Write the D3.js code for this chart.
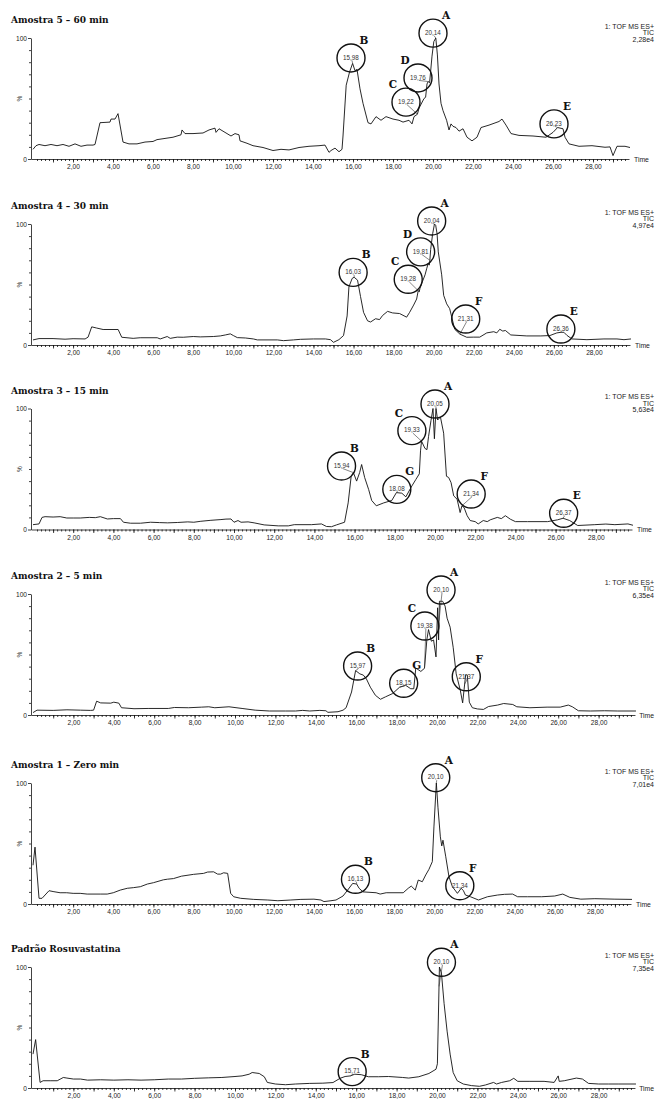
<!DOCTYPE html>
<html>
<head>
<meta charset="utf-8">
<script src="https://cdn.jsdelivr.net/npm/d3@7"></script>
<style>
    body { margin: 0; background: #fff; }
    svg { display: block; }
    .tick text { font-family: "Liberation Sans", Arial, sans-serif; font-size: 6.6px; fill: #222; }
    .tick line, .domain { stroke: #111; stroke-width: 0.8; }
</style>
</head>
<body>
<div id="chart"></div>
<script>
// ---------------- data ----------------
var titles = ["Amostra 5 \u2013 60 min", "Amostra 4 \u2013 30 min", "Amostra 3 \u2013 15 min",
    "Amostra 2 \u2013 5 min", "Amostra 1 \u2013 Zero min", "Padr\u00e3o Rosuvastatina"];
var ticValues = ["2,28e4", "4,97e4", "5,63e4", "6,35e4", "7,01e4", "7,35e4"];
var xTickLabels = [2, 4, 6, 8, 10, 12, 14, 16, 18, 20, 22, 24, 26, 28];

// Amostra 5 - 60 min (time in min, intensity in %)
var a5Time = [0, 0.15, 0.3, 0.6, 0.9, 1.2, 1.5, 1.8, 2.1, 2.4, 2.7, 3.0, 3.1, 3.35, 3.85, 3.9, 4.1, 4.25, 4.5, 4.8,
    5.2, 5.6, 6.0, 6.2, 6.6, 7.0, 7.4, 7.45, 7.6, 8.0, 8.5, 8.8, 9.1, 9.15, 9.3, 9.6, 9.9, 10.1, 10.3, 10.35,
    10.7, 11.0, 11.5, 12.0, 12.4, 12.8, 13.3, 13.8, 14.3, 14.6, 14.8, 14.9, 15.1, 15.3, 15.45, 15.5, 15.66, 15.83, 15.98, 16.1,
    16.2, 16.35, 16.5, 16.75, 16.9, 17.15, 17.4, 17.65, 18.0, 18.3, 18.5, 18.8, 18.95, 19.05, 19.22, 19.3, 19.55, 19.63, 19.7, 19.76,
    19.83, 19.95, 20.04, 20.14, 20.22, 20.3, 20.4, 20.5, 20.68, 20.8, 20.9, 21.0, 21.15, 21.3, 21.5, 21.7, 21.95, 22.2, 22.4, 22.8,
    23.3, 23.45, 23.65, 23.9, 24.3, 25.0, 25.65, 26.0, 26.23, 26.5, 26.6, 26.8, 27.3, 27.95, 28.6, 28.85, 29.0, 29.2, 29.6, 29.85];
var a5Int = [8, 11, 12, 11, 12, 11, 12, 10.5, 12.5, 10.5, 11.5, 11.5, 12, 30, 30.5, 33, 33, 37.5, 14, 12.5,
    12.5, 14, 14.5, 16, 17, 18, 20, 24, 21, 21, 21.5, 24, 25.5, 22, 25, 22, 19, 21, 20, 15,
    13, 11, 9.5, 7, 8, 7.5, 9.5, 10.5, 11, 11.5, 5.5, 7, 9, 6, 8, 19, 61, 72, 79, 73,
    74, 58, 46, 30, 29, 35, 32, 35, 33, 32, 30.5, 32, 29, 35, 37, 42, 50, 51, 62, 64,
    63, 85, 97, 100, 86, 62, 46, 40, 32, 24, 29, 27, 26, 23, 25, 18, 15, 18, 26, 28,
    31, 33, 28, 21, 19.5, 19, 18, 22, 26, 25, 18, 12.5, 10.5, 11, 9.7, 10, 2.8, 10.5, 10.5, 9.5];

// Amostra 4 - 30 min
var a4Time = [0, 0.3, 1.0, 1.6, 2.0, 2.6, 2.75, 2.93, 3.18, 3.5, 4.25, 4.43, 5.0, 5.35, 6.2, 6.35, 6.7, 6.85, 7.2, 7.5,
    8.0, 8.35, 9.0, 9.35, 9.6, 9.85, 10.0, 10.2, 10.6, 11.0, 11.2, 12.2, 12.5, 13.0, 13.35, 14.0, 14.6, 14.85, 15.0, 15.27,
    15.5, 15.68, 15.77, 15.93, 16.03, 16.2, 16.35, 16.5, 16.7, 16.85, 17.1, 17.3, 17.45, 17.7, 17.95, 18.3, 18.65, 18.8, 19.0, 19.15,
    19.23, 19.28, 19.32, 19.43, 19.57, 19.65, 19.73, 19.78, 19.81, 19.85, 19.95, 20.04, 20.1, 20.17, 20.23, 20.4, 20.5, 20.65, 20.8, 21.05,
    21.31, 21.65, 22.0, 22.3, 22.65, 23.0, 23.15, 23.3, 23.45, 23.58, 23.85, 24.65, 25.35, 25.8, 26.15, 26.36, 26.5, 26.65, 26.9, 27.65,
    28.5, 29.15, 29.5, 29.85];
var a4Int = [4.2, 5.3, 5.3, 4.8, 5.2, 5, 6.5, 15, 14, 12.8, 12.8, 6.4, 5.5, 6, 6, 5, 7, 5.5, 6.5, 6.4,
    7, 6.7, 7, 7.5, 8.3, 9.2, 7.8, 6.1, 5.8, 5, 4.2, 4.2, 3.6, 4.2, 4.7, 5, 5, 4.4, 2.2, 4.4,
    7.8, 24, 48, 55, 56, 53.6, 40, 27, 20, 19, 21.7, 21, 24.4, 27.8, 26.5, 26, 23, 27, 33, 38,
    45, 44, 47, 52, 58, 63, 67.5, 66, 70, 79, 92, 100, 99, 92, 77, 58, 41, 34, 30, 13,
    9, 6.4, 6.5, 6.5, 10, 11, 10, 13, 11.5, 12, 8.3, 7.5, 7.5, 7.8, 10, 10.5, 10.5, 8, 5, 4.4,
    5, 5, 4.4, 5];

// Amostra 3 - 15 min
var a3Time = [0, 0.3, 0.45, 0.6, 1.0, 1.35, 1.68, 2.0, 2.35, 2.8, 3.1, 3.35, 3.7, 4.0, 4.35, 4.5, 4.85, 5.35, 5.85, 6.3,
    6.7, 7.2, 7.7, 8.0, 8.35, 8.85, 9.35, 9.6, 9.85, 10.0, 10.2, 10.35, 10.7, 11.0, 11.5, 12.2, 12.7, 13.0, 13.85, 14.35,
    14.6, 14.85, 15.1, 15.5, 15.68, 15.83, 15.94, 16.1, 16.25, 16.35, 16.5, 16.7, 16.85, 17.08, 17.45, 17.85, 18.08, 18.35, 18.55, 18.85,
    19.05, 19.22, 19.28, 19.33, 19.5, 19.6, 19.68, 19.8, 19.9, 19.97, 20.05, 20.13, 20.27, 20.43, 20.57, 20.68, 20.8, 20.93, 21.1, 21.25,
    21.34, 21.45, 21.6, 21.75, 22.0, 22.15, 22.4, 22.6, 22.75, 23.1, 23.3, 23.5, 23.75, 24.0, 24.6, 25.6, 26.1, 26.37, 26.7, 27.1,
    27.95, 28.5, 28.95, 29.6, 29.85];
var a3Int = [4, 4.6, 10, 10.6, 10.3, 10.6, 9.5, 9.5, 9.5, 10, 9.8, 10.6, 8.7, 9, 9, 6, 5.2, 5.2, 6, 5.7,
    5.5, 5.8, 6.3, 6, 6.8, 7.6, 8.2, 8.6, 8.7, 6, 7.4, 6, 6.3, 5.5, 3.8, 3, 3, 4, 4, 4.6,
    2.5, 2.3, 3.8, 6, 22, 44, 47, 40, 47, 53.7, 43, 33, 24, 19.6, 22, 24, 30.5, 30, 27, 36,
    41.4, 46, 65, 73, 67, 66, 77, 90, 100, 75, 100, 90.5, 93, 79.6, 44, 43, 38.7, 27.8, 25, 14,
    19.6, 18, 11.4, 7.4, 6.5, 4.6, 7.4, 6.5, 8, 10, 9, 11.4, 8.5, 6.5, 6.5, 6.5, 8, 9.3, 7.4, 3.3,
    4, 4.5, 4, 4.6, 3.5];

// Amostra 2 - 5 min
var a2Time = [0, 0.2, 1.0, 1.68, 2.35, 2.85, 3.0, 3.15, 3.35, 3.85, 4.0, 4.25, 4.38, 5.0, 5.7, 6.7, 7.0, 7.7, 8.35, 8.7,
    9.0, 9.7, 10.35, 11.0, 11.7, 12.5, 13.0, 13.35, 13.7, 14.2, 14.5, 14.6, 15.1, 15.35, 15.5, 15.77, 15.97, 16.18, 16.35, 16.5,
    16.7, 16.95, 17.2, 17.45, 17.8, 18.15, 18.45, 18.7, 18.85, 18.95, 19.2, 19.38, 19.5, 19.58, 19.72, 19.83, 19.95, 20.03, 20.08, 20.12,
    20.28, 20.4, 20.5, 20.65, 20.8, 20.95, 21.15, 21.27, 21.42, 21.5, 21.6, 21.75, 22.0, 22.3, 22.55, 23.0, 23.3, 23.75, 23.95, 24.6,
    25.45, 26.1, 26.5, 26.7, 27.0, 27.6, 28.3, 28.95, 29.85];
var a2Int = [2, 4, 3.8, 4.3, 4, 3.8, 4, 11.4, 10, 9.8, 10.6, 9.8, 6, 5.2, 5.4, 5.4, 6.2, 6, 6.5, 6.8,
    6, 6.8, 5.4, 4, 3.3, 3.3, 3.3, 3.8, 3.3, 3.8, 3.5, 2.2, 2.7, 4, 6, 19, 36.7, 34, 33, 30,
    23, 16.3, 13, 15, 17.7, 23, 24.5, 21.7, 21.7, 38.8, 36, 38.6, 62.5, 70.6, 61, 62, 48, 88.6, 62, 94,
    94, 90, 80, 72.6, 56, 34, 20.7, 10, 33.4, 33, 10.6, 6, 5, 4.6, 7, 8.2, 9.5, 8.7, 6.8, 6,
    6.5, 6.5, 8.2, 6.8, 3.5, 3.3, 3.5, 3.3, 3.3];

// Amostra 1 - Zero min
var a1Time = [0, 0.1, 0.3, 0.45, 0.8, 1.0, 1.35, 1.68, 2.0, 2.35, 2.7, 3.35, 3.7, 4.0, 4.35, 4.7, 5.0, 5.35, 5.7, 6.0,
    6.5, 6.7, 7.0, 7.4, 8.0, 8.5, 8.7, 9.0, 9.2, 9.35, 9.5, 9.7, 9.85, 10.0, 10.35, 11.0, 11.7, 12.2, 12.85, 13.35,
    14.0, 14.35, 14.5, 14.85, 15.1, 15.45, 15.68, 15.93, 16.13, 16.25, 16.45, 17.1, 17.3, 17.6, 18.45, 18.7, 18.85, 19.05, 19.2, 19.4,
    19.57, 19.73, 19.9, 19.98, 20.1, 20.18, 20.3, 20.37, 20.43, 20.57, 20.73, 20.9, 21.15, 21.34, 21.45, 21.55, 21.8, 22.2, 22.65, 23.15,
    23.5, 23.9, 24.15, 24.65, 25.35, 26.0, 26.4, 26.75, 27.3, 28.0, 29.0, 29.85];
var a1Int = [32, 47, 4.7, 4.7, 11, 10.3, 9.3, 9.3, 8.8, 8.8, 8.2, 8.2, 8.2, 9.3, 11.5, 13, 13.5, 14.3, 16.5, 17.6,
    20, 20.5, 21, 23, 24.5, 25.3, 26.4, 26.6, 24.7, 24.7, 25.8, 25.3, 8.8, 6, 4.7, 3.8, 3.3, 2.7, 3.3, 3.8,
    4, 3.3, 2, 2.7, 3.3, 6.6, 11.5, 17, 16.5, 13, 10, 9.3, 8.2, 9.3, 9.3, 13, 14.8, 11.5, 19.8, 18.4,
    24, 28.6, 35, 63.7, 100, 80, 55.5, 48, 52.7, 39, 22.5, 14.3, 8.8, 13, 11, 7.4, 6, 3.3, 6, 7.4,
    8, 8.2, 6, 6, 6, 6.6, 8.2, 5.5, 4, 4.4, 4, 3.8];

// Padrao Rosuvastatina
var stdTime = [0, 0.13, 0.35, 0.5, 0.85, 1.2, 1.5, 1.68, 2.0, 2.35, 2.7, 3.35, 4.0, 4.7, 5.35, 6.0, 6.7, 7.35, 8.0, 8.7,
    9.35, 10.0, 10.35, 10.7, 10.85, 11.2, 11.45, 11.6, 12.0, 12.5, 13.0, 13.7, 14.35, 14.85, 15.2, 15.45, 15.71, 15.93, 16.25, 16.6,
    17.1, 17.6, 18.3, 18.6, 19.1, 19.6, 19.95, 20.02, 20.12, 20.22, 20.35, 20.5, 20.65, 20.8, 21.0, 21.3, 21.7, 22.1, 22.4, 22.8,
    22.95, 23.2, 23.6, 23.8, 24.0, 24.6, 25.3, 25.8, 26.0, 26.05, 26.3, 26.9, 27.2, 27.5, 28.0, 28.5, 29.0, 29.85];
var stdInt = [28, 40, 4.6, 6, 6, 6, 8.7, 8.2, 7.4, 7.4, 6.5, 6.8, 6.5, 6.8, 6.5, 6.8, 7.4, 7.4, 8, 8.4,
    8.7, 9.5, 10, 11.4, 12.8, 12, 9.3, 4.6, 3.3, 2.7, 3.3, 3.8, 4, 4.5, 8, 9.5, 10, 11.4, 11, 9.3,
    9.3, 9.5, 8.7, 8.2, 9.3, 12, 15.5, 20, 100, 95, 70, 47, 28, 12.8, 6, 3.3, 2, 1.4, 2.5, 4.6,
    3.3, 4.6, 6, 8, 5.5, 5.5, 5.5, 4.6, 10, 5.5, 6, 8.2, 7.4, 3.8, 3.3, 3.3, 3.3, 3.3];

// peak letters and retention times printed in the circles
var a5Peaks = [["B", "15,98"], ["D", "19,76"], ["C", "19,22"], ["A", "20,14"], ["E", "26,23"]];
var a4Peaks = [["B", "16,03"], ["C", "19,28"], ["D", "19,81"], ["A", "20,04"], ["F", "21,31"], ["E", "26,36"]];
var a3Peaks = [["B", "15,94"], ["G", "18,08"], ["C", "19,33"], ["A", "20,05"], ["F", "21,34"], ["E", "26,37"]];
var a2Peaks = [["B", "15,97"], ["G", "18,15"], ["C", "19,38"], ["A", "20,10"], ["F", "21,37"]];
var a1Peaks = [["B", "16,13"], ["A", "20,10"], ["F", "21,34"]];
var stdPeaks = [["B", "15,71"], ["A", "20,10"]];

// ---------------- layout ----------------
// circle centre (time, %) and side of the letter for each callout
var a5Spots = [[15.9, 83.5, 1], [19.25, 67, -1], [18.65, 47, -1], [20.0, 104, 1], [26.05, 29, 1]];
var a4Spots = [[15.98, 60, 1], [18.73, 54.3, -1], [19.35, 77, -1], [19.9, 102.5, 1], [21.6, 21.5, 1], [26.35, 13.2, 1]];
var a3Spots = [[15.35, 52.5, 1], [18.1, 33.2, 1], [18.85, 81.7, -1], [20.0, 103.7, 1], [21.8, 29.3, 1], [26.4, 13.4, 1]];
var a2Spots = [[16.07, 40.5, 1], [18.35, 26.2, 1], [19.4, 73.5, -1], [20.2, 103.3, 1], [21.45, 31.6, 1]];
var a1Spots = [[16.07, 20.4, 1], [20.07, 104.4, 1], [21.27, 15.1, 1]];
var stdSpots = [[15.8, 13.5, 1], [20.22, 103.9, 1]];

var panels = [
    { time: a5Time, inten: a5Int, peaks: a5Peaks, spots: a5Spots },
    { time: a4Time, inten: a4Int, peaks: a4Peaks, spots: a4Spots },
    { time: a3Time, inten: a3Int, peaks: a3Peaks, spots: a3Spots },
    { time: a2Time, inten: a2Int, peaks: a2Peaks, spots: a2Spots },
    { time: a1Time, inten: a1Int, peaks: a1Peaks, spots: a1Spots },
    { time: stdTime, inten: stdInt, peaks: stdPeaks, spots: stdSpots }
];

var panelTop = [38, 224, 408.5, 594, 783, 967];  // y of the 100 % tick
var plotH = 121;
var xShift = [0, 1, 3, 6, 2, 6];
var textRight = 654;

var svg = d3.select("#chart")
    .append("svg")
    .attr("width", 655)
    .attr("height", 1100);

var serif = "'DejaVu Serif', 'Liberation Serif', serif";
var sans = "'Liberation Sans', Arial, sans-serif";

// linear interpolation to find where a callout's leader line meets the trace
function valueAt(times, vals, t) {
    var i = d3.bisectLeft(times, t);
    if (i <= 0) return vals[0];
    if (i >= times.length) return vals[vals.length - 1];
    var f = (t - times[i - 1]) / (times[i] - times[i - 1]);
    return vals[i - 1] + f * (vals[i] - vals[i - 1]);
}

panels.forEach(function (p, i) {
    var g = svg.append("g");

    var x = d3.scaleLinear().domain([0, 30]).range([33, 633 + xShift[i]]);
    var y = d3.scaleLinear().domain([0, 100]).range([panelTop[i] + plotH, panelTop[i]]);
    var y0 = y(0);

    // title
    g.append("text")
        .attr("x", 11)
        .attr("y", panelTop[i] - 15)
        .style("font-family", serif)
        .style("font-weight", "bold")
        .style("font-size", "9px")
        .style("fill", "#111")
        .text(titles[i]);

    // x axis: the axis line stops just short of 30 min
    var xa = x.copy().domain([-0.1, 29.8]).range([x(-0.1), x(29.8)]);
    g.append("g")
        .attr("transform", "translate(0," + y0 + ")")
        .call(d3.axisBottom(xa)
            .tickValues(d3.range(1, 149).map(function (k) { return k / 5; }))
            .tickSize(2)
            .tickSizeOuter(0)
            .tickFormat(""));
    g.append("g")
        .attr("transform", "translate(0," + y0 + ")")
        .call(d3.axisBottom(xa)
            .tickValues(d3.range(1, 30))
            .tickSize(3.5)
            .tickSizeOuter(0)
            .tickPadding(2)
            .tickFormat(function (d) {
                return xTickLabels.indexOf(d) >= 0 ? d3.format(".2f")(d).replace(".", ",") : "";
            }))
        .select(".domain").remove();

    // y axis
    var ya = y.copy();
    g.append("g")
        .attr("transform", "translate(31,0)")
        .call(d3.axisLeft(ya)
            .tickValues(d3.range(10, 100, 10))
            .tickSize(2)
            .tickSizeOuter(0)
            .tickFormat(""));
    g.append("g")
        .attr("transform", "translate(31,0)")
        .call(d3.axisLeft(ya)
            .tickValues([0, 100])
            .tickSize(3)
            .tickSizeOuter(0)
            .tickPadding(1))
        .select(".domain").remove();

    g.append("text")
        .attr("transform", "translate(22," + y(50) + ") rotate(-90)")
        .style("font-family", sans)
        .style("font-size", "6.5px")
        .style("text-anchor", "middle")
        .style("fill", "#222")
        .text("%");

    // "Time" sits right after the axis, kept inside the page
    var tight = x(30) + 17 > textRight;
    g.append("text")
        .attr("x", tight ? textRight : x(30) + 1)
        .attr("y", y0 + 2.5)
        .style("font-family", sans)
        .style("font-size", "6.8px")
        .style("text-anchor", tight ? "end" : "start")
        .style("fill", "#222")
        .text("Time");

    // instrument info, top right
    ["1: TOF MS ES+", "TIC", ticValues[i]].forEach(function (s, k) {
        g.append("text")
            .attr("x", textRight)
            .attr("y", panelTop[i] - 9.5 + k * 6.6)
            .style("font-family", sans)
            .style("font-size", "7px")
            .style("text-anchor", "end")
            .style("fill", "#222")
            .text(s);
    });

    // the trace
    var pts = p.time.map(function (t, k) { return [t, p.inten[k]]; });
    var line = d3.line()
        .x(function (d) { return x(d[0]); })
        .y(function (d) { return y(d[1]); });
    g.append("path")
        .datum(pts)
        .attr("d", line)
        .attr("fill", "none")
        .attr("stroke", "#111")
        .attr("stroke-width", 0.9)
        .attr("stroke-linejoin", "round");

    // circled callouts
    p.peaks.forEach(function (pk, k) {
        var spot = p.spots[k];
        var rt = +pk[1].replace(",", ".");
        var cx = x(spot[0]), cy = y(spot[1]);
        var px = x(rt), py = y(valueAt(p.time, p.inten, rt));

        g.append("line")
            .attr("x1", cx + 1)
            .attr("y1", cy + 2.5)
            .attr("x2", px)
            .attr("y2", py)
            .attr("stroke", "#333")
            .attr("stroke-width", 0.6);

        g.append("circle")
            .attr("cx", cx)
            .attr("cy", cy)
            .attr("r", 14)
            .attr("fill", "none")
            .attr("stroke", "#111")
            .attr("stroke-width", 1.4);

        g.append("text")
            .attr("x", cx)
            .attr("y", cy + 1.8)
            .style("font-family", sans)
            .style("font-size", "6.3px")
            .style("text-anchor", "middle")
            .style("fill", "#333")
            .text(pk[1]);

        g.append("text")
            .attr("x", cx + spot[2] * 13)
            .attr("y", cy - 14)
            .style("font-family", serif)
            .style("font-weight", "bold")
            .style("font-size", "10.5px")
            .style("text-anchor", "middle")
            .style("fill", "#111")
            .text(pk[0]);
    });
});
</script>
</body>
</html>
